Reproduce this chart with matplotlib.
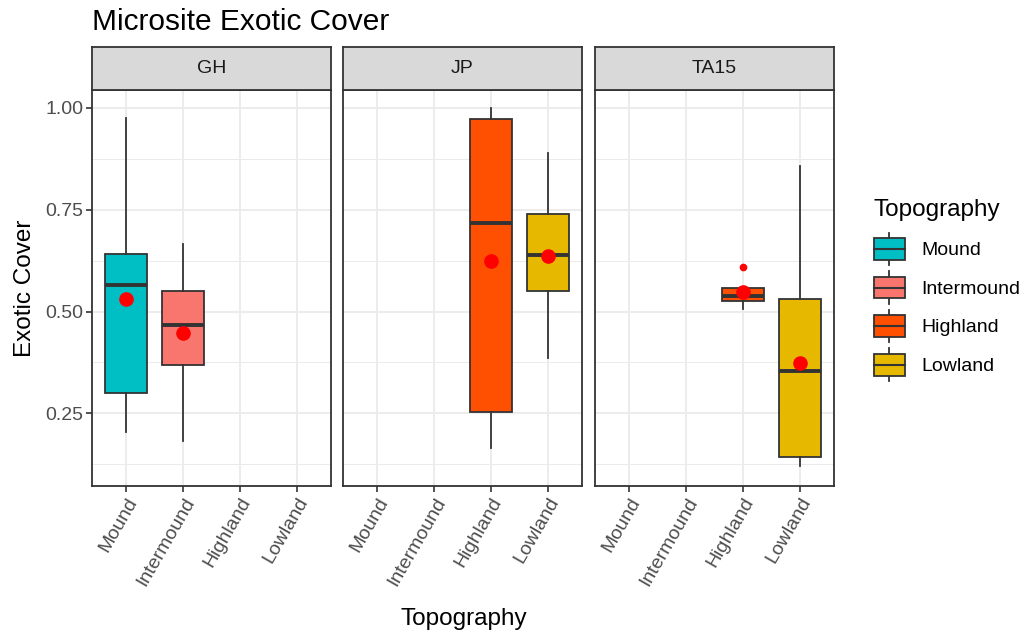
import matplotlib
matplotlib.use("Agg")
import matplotlib.pyplot as plt
from matplotlib.patches import Rectangle
from matplotlib.lines import Line2D
from matplotlib.legend_handler import HandlerBase

plt.rcParams['font.family'] = ['Liberation Sans', 'DejaVu Sans']

# ---------------- data ----------------
sites = ["GH", "JP", "TA15"]
topographies = ["Mound", "Intermound", "Highland", "Lowland"]
colors = {"Mound": "#00BFC4", "Intermound": "#F8766D",
          "Highland": "#FF4F00", "Lowland": "#E6B800"}

# per site: topography -> (whislo, q1, median, q3, whishi, mean, outliers)
GH_stats = {
    "Mound":      (0.203, 0.299, 0.566, 0.641, 0.976, 0.530, []),
    "Intermound": (0.182, 0.368, 0.466, 0.550, 0.667, 0.447, []),
}
JP_stats = {
    "Highland":   (0.165, 0.253, 0.717, 0.974, 1.000, 0.625, []),
    "Lowland":    (0.385, 0.550, 0.639, 0.739, 0.890, 0.637, []),
}
TA15_stats = {
    "Highland":   (0.505, 0.526, 0.539, 0.558, 0.558, 0.547, [0.610]),
    "Lowland":    (0.120, 0.143, 0.354, 0.530, 0.857, 0.374, []),
}
site_stats = {"GH": GH_stats, "JP": JP_stats, "TA15": TA15_stats}

y_ticks = [0.25, 0.50, 0.75, 1.00]
y_minor = [0.125, 0.375, 0.625, 0.875]
y_lim = (0.0715, 1.044)

# ---------------- figure ----------------
W, H = 1033, 637
fig = plt.figure(figsize=(W / 100, H / 100), dpi=100)

panel_lefts = [92, 343, 595]
panel_w = 239
p_top, p_bot = 90, 486
strip_top = 47

dark = "#333333"
tick_col = "#4D4D4D"
tick_fs = 14.0
title_fs = 17.5

for i, site in enumerate(sites):
    l = panel_lefts[i]
    ax = fig.add_axes([l / W, 1 - p_bot / H, panel_w / W, (p_bot - p_top) / H])

    stats = site_stats[site]
    bstats, pos, cols, means = [], [], [], []
    for j, topo in enumerate(topographies):
        if topo in stats:
            wl, q1, med, q3, wh, mn, fl = stats[topo]
            bstats.append(dict(whislo=wl, q1=q1, med=med, q3=q3, whishi=wh,
                               fliers=fl, mean=mn))
            pos.append(j + 1)
            cols.append(colors[topo])
            means.append(mn)
    bp = ax.bxp(bstats, positions=pos, widths=0.75, patch_artist=True,
                showcaps=False, showfliers=True, manage_ticks=False,
                boxprops=dict(edgecolor=dark, linewidth=1.3),
                whiskerprops=dict(color=dark, linewidth=1.3),
                medianprops=dict(color=dark, linewidth=2.8),
                flierprops=dict(marker="o", markerfacecolor="red",
                                markeredgecolor="red", markersize=4.5))
    for patch, c in zip(bp["boxes"], cols):
        patch.set_facecolor(c)
    ax.plot(pos, means, "o", color="red", markersize=9.5, zorder=5, linestyle="none")

    ax.set_xlim(0.4, 4.6)
    ax.set_ylim(*y_lim)
    ax.set_yticks(y_ticks)
    ax.set_yticks(y_minor, minor=True)
    ax.set_xticks(range(1, len(topographies) + 1))
    ax.set_axisbelow(True)
    ax.grid(True, which="major", color="#EBEBEB", lw=1.3)
    ax.grid(True, which="minor", axis="y", color="#EBEBEB", lw=0.7)
    for s in ax.spines.values():
        s.set_color(dark)
        s.set_linewidth(1.3)
    ax.tick_params(axis="both", which="major", color=dark, length=4, width=1.2,
                   labelcolor=tick_col, labelsize=tick_fs, pad=2)
    ax.tick_params(axis="y", which="minor", length=0)
    ax.set_xticklabels(topographies, rotation=60, ha="right", va="top",
                       rotation_mode="anchor")
    if i == 0:
        ax.set_yticklabels([f"{v:.2f}" for v in y_ticks])
        ax.set_ylabel("Exotic Cover", fontsize=title_fs, color="black", labelpad=7)
    else:
        ax.tick_params(axis="y", which="major", labelleft=False, length=0)

    # strip
    sax = fig.add_axes([l / W, 1 - p_top / H, panel_w / W, (p_top - strip_top) / H])
    sax.set_facecolor("#D9D9D9")
    sax.set_xticks([]); sax.set_yticks([])
    for s in sax.spines.values():
        s.set_color(dark)
        s.set_linewidth(1.3)
    sax.text(0.5, 0.5, site, ha="center", va="center", fontsize=tick_fs,
             color="#1A1A1A", transform=sax.transAxes)

fig.text(92 / W, 1 - 22 / H, "Microsite Exotic Cover", fontsize=21.5,
         ha="left", va="center", color="black")
fig.text((92 + 835) / 2 / W, 1 - 619 / H, "Topography", fontsize=title_fs,
         ha="center", va="center", color="black")


# ---------------- legend ----------------
class BoxKey(HandlerBase):
    def create_artists(self, legend, orig_handle, xdescent, ydescent,
                       width, height, fontsize, trans):
        c = orig_handle.get_color()
        bh = height * 0.66
        y0 = -ydescent + (height - bh) / 2
        x0 = -xdescent
        rect = Rectangle((x0, y0), width, bh, facecolor=c, edgecolor=dark,
                         lw=1.3, transform=trans)
        cx = x0 + width / 2
        med = Line2D([x0, x0 + width], [y0 + bh / 2] * 2, color=dark, lw=1.5,
                     transform=trans)
        w1 = Line2D([cx, cx], [-ydescent, y0], color=dark, lw=1.3, transform=trans)
        w2 = Line2D([cx, cx], [y0 + bh, -ydescent + height], color=dark, lw=1.3,
                    transform=trans)
        return [w1, w2, rect, med]


handles = [Line2D([], [], color=colors[t]) for t in topographies]
leg = fig.legend(handles, topographies, handler_map={Line2D: BoxKey()},
                 loc="upper left", bbox_to_anchor=(870 / W, 1 - 195 / H),
                 frameon=False, fontsize=tick_fs, title="Topography",
                 title_fontsize=title_fs, handlelength=1.6, handleheight=2.2,
                 labelspacing=0.31, handletextpad=0.85, borderpad=0.2,
                 borderaxespad=0)
leg._legend_box.align = "left"
leg._legend_box.sep = 8.5

fig.savefig("out.png", dpi=100)
